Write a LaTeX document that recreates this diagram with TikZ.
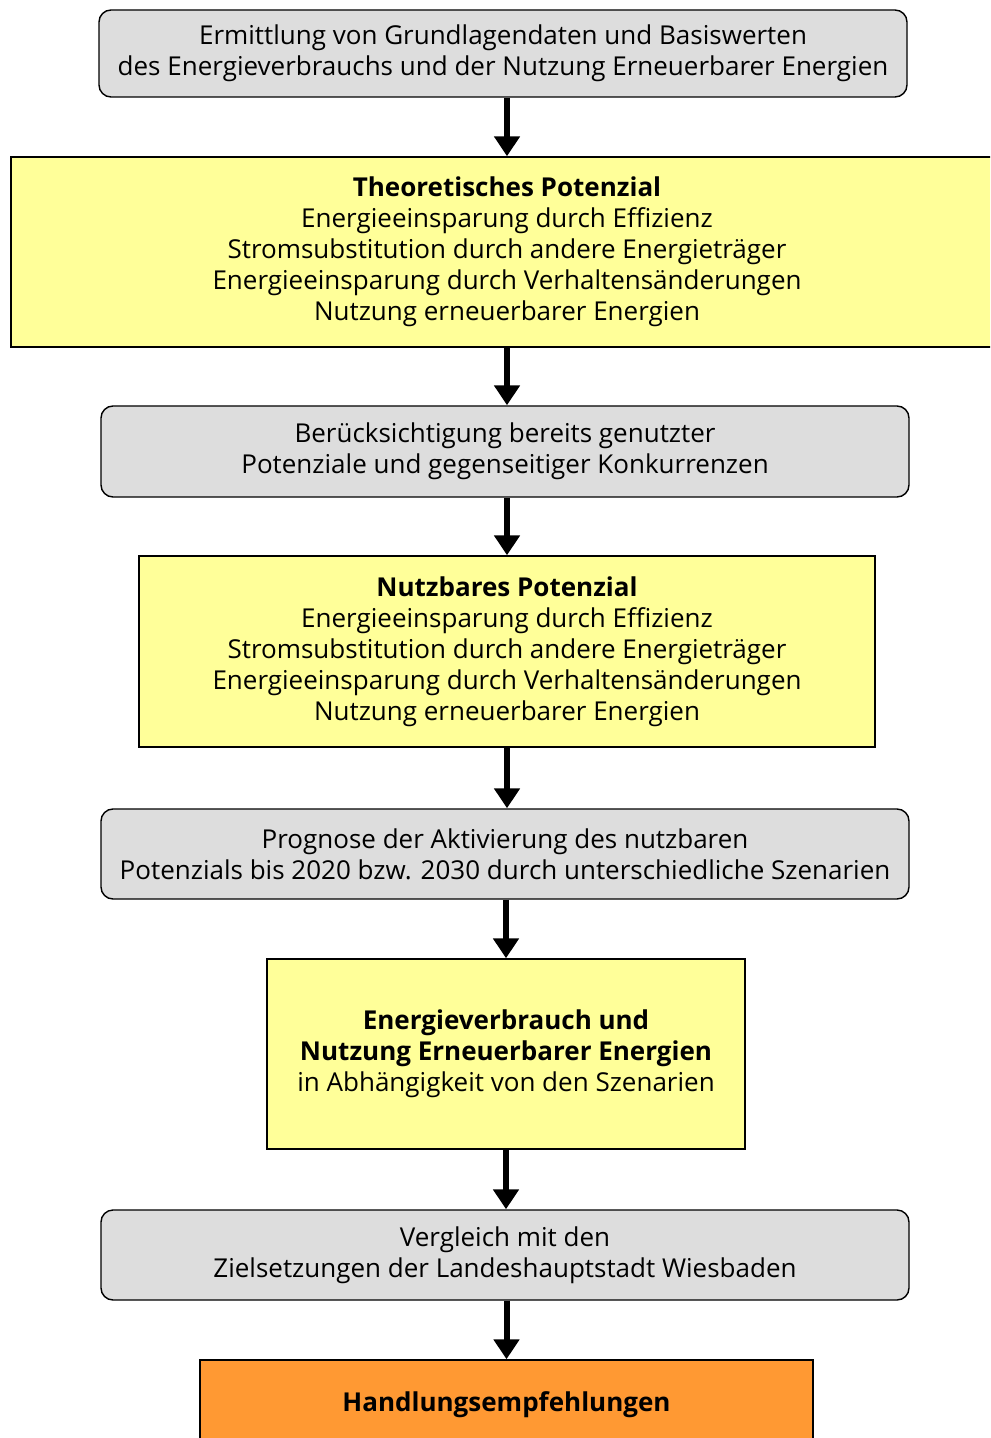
\documentclass[tikz,border=0pt]{standalone}
\usepackage{fontspec}
\setmainfont{Open Sans}
\usetikzlibrary{arrows.meta}
\definecolor{boxgray}{RGB}{221,221,221}
\definecolor{boxyellow}{RGB}{255,255,153}
\definecolor{boxorange}{RGB}{255,153,51}

\begin{document}
\begin{tikzpicture}[
  font=\fontsize{14.8}{17.6}\selectfont,
  graybox/.style={draw,rounded corners=0.24cm,fill=boxgray,align=center,
    inner sep=0pt,line width=0.8pt},
  yellowbox/.style={draw,fill=boxyellow,align=center,inner sep=0pt,line width=0.8pt},
  orangebox/.style={draw,fill=boxorange,align=center,inner sep=0pt,line width=0.8pt},
  flow/.style={line width=0.12cm,-{Triangle[width=0.5cm,length=0.4cm]}}
  ]
  \useasboundingbox (0,0) rectangle (19.8,-28.76);
  \clip (0,0) rectangle (19.8,-28.76);

  \node[graybox,minimum width=16.16cm,minimum height=1.74cm] (basis) at (10.06,-1.07)
    {Ermittlung von Grundlagendaten und Basiswerten\\des Energieverbrauchs und der Nutzung Erneuerbarer Energien};
  \node[yellowbox,minimum width=19.84cm,minimum height=3.8cm] (theo) at (10.14,-5.04)
    {\textbf{Theoretisches Potenzial}\\Energieeinsparung durch Effizienz\\Stromsubstitution durch andere Energietr\"ager\\Energieeinsparung durch Verhaltens\"anderungen\\Nutzung erneuerbarer Energien};
  \node[graybox,minimum width=16.16cm,minimum height=1.82cm] (beruecks) at (10.10,-9.03)
    {Ber\"ucksichtigung bereits genutzter\\Potenziale und gegenseitiger Konkurrenzen};
  \node[yellowbox,minimum width=14.72cm,minimum height=3.82cm] (nutzbar) at (10.14,-13.03)
    {\textbf{Nutzbares Potenzial}\\Energieeinsparung durch Effizienz\\Stromsubstitution durch andere Energietr\"ager\\Energieeinsparung durch Verhaltens\"anderungen\\Nutzung erneuerbarer Energien};
  \node[graybox,minimum width=16.16cm,minimum height=1.8cm] (prognose) at (10.10,-17.08)
    {Prognose der Aktivierung des nutzbaren\\Potenzials bis 2020 bzw. 2030 durch unterschiedliche Szenarien};
  \node[yellowbox,minimum width=9.56cm,minimum height=3.8cm] (verbrauch) at (10.12,-21.08)
    {\textbf{Energieverbrauch und}\\\textbf{Nutzung Erneuerbarer Energien}\\in Abh\"angigkeit von den Szenarien};
  \node[graybox,minimum width=16.16cm,minimum height=1.8cm] (vergleich) at (10.10,-25.10)
    {Vergleich mit den\\Zielsetzungen der Landeshauptstadt Wiesbaden};
  \node[orangebox,minimum width=12.26cm,minimum height=1.8cm] (empf) at (10.13,-28.10)
    {\textbf{Handlungsempfehlungen}};

  \draw[flow] (theo.north |- basis.south) -- (theo.north);
  \draw[flow] (theo.south) -- (theo.south |- beruecks.north);
  \draw[flow] (nutzbar.north |- beruecks.south) -- (nutzbar.north);
  \draw[flow] (nutzbar.south) -- (nutzbar.south |- prognose.north);
  \draw[flow] (verbrauch.north |- prognose.south) -- (verbrauch.north);
  \draw[flow] (verbrauch.south) -- (verbrauch.south |- vergleich.north);
  \draw[flow] (empf.north |- vergleich.south) -- (empf.north);

\end{tikzpicture}
\end{document}
